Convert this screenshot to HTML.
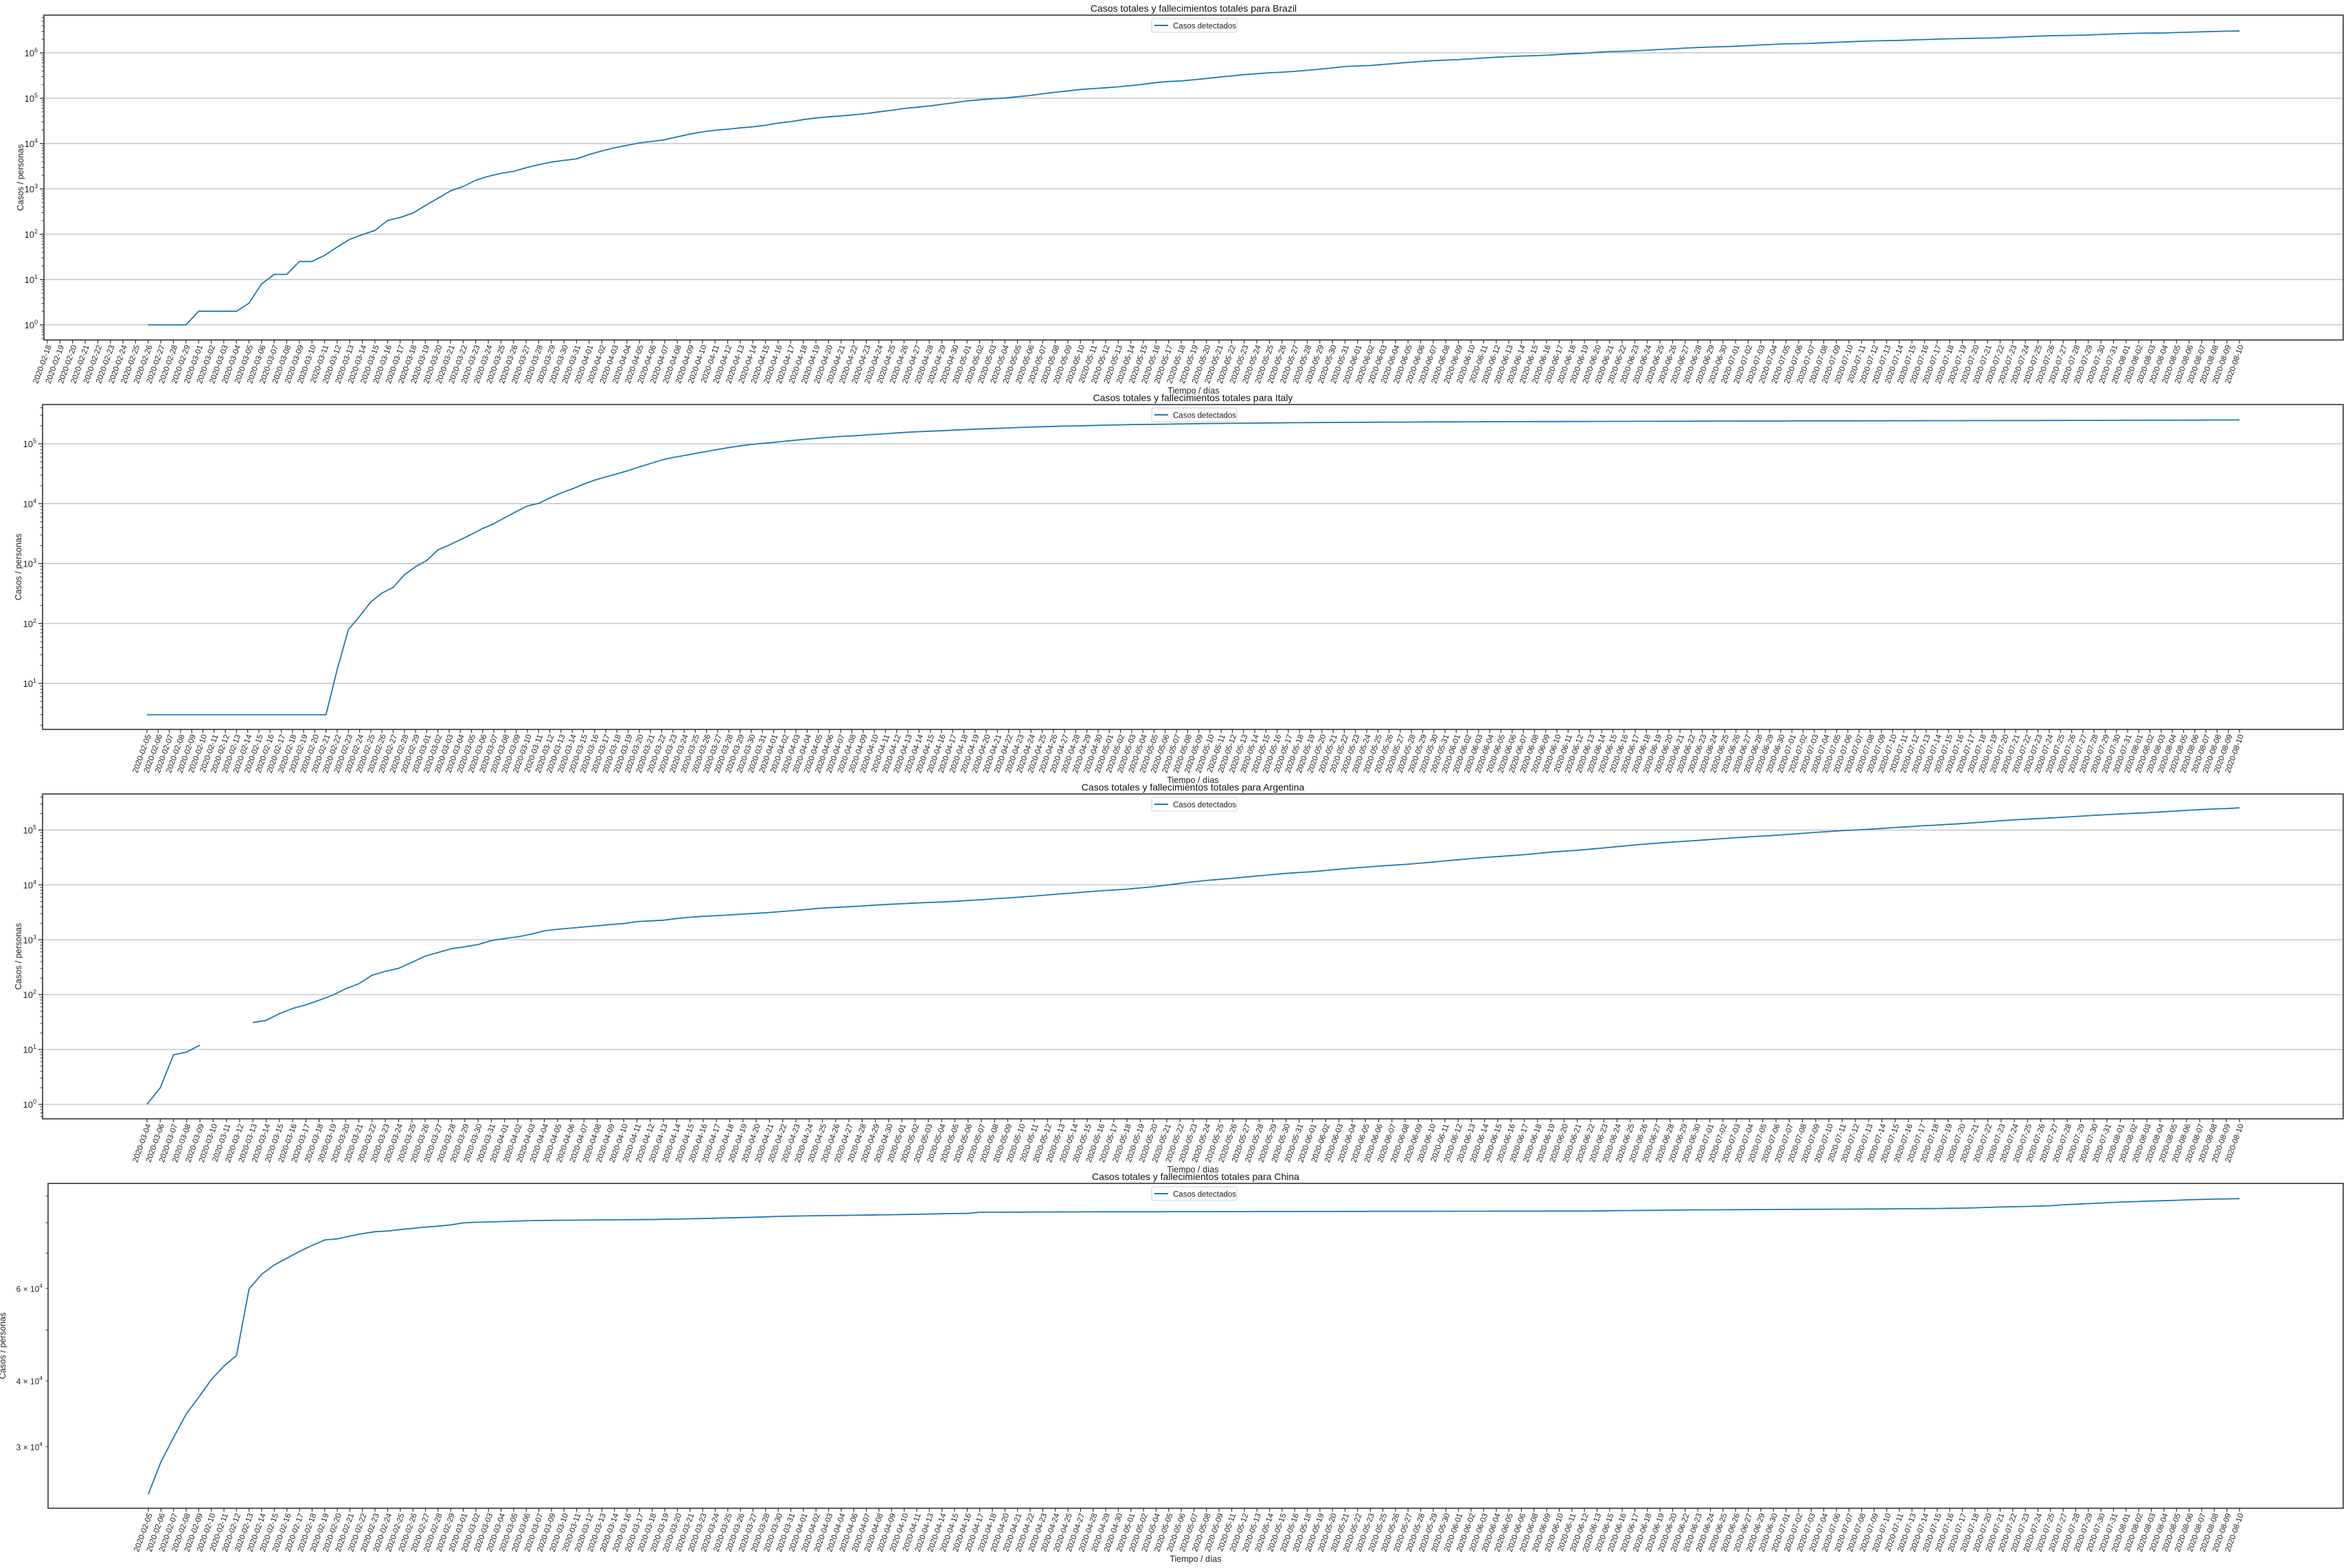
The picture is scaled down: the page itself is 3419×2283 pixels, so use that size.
<!DOCTYPE html>
<html><head><meta charset="utf-8"><style>
html,body{margin:0;padding:0;background:#fff}
svg{display:block;font-family:"Liberation Sans","DejaVu Sans",sans-serif}
</style></head><body>
<svg id="fig" width="3419" height="2283" viewBox="0 0 3419 2283" xmlns="http://www.w3.org/2000/svg"></svg>
<script>
// ---------- data ----------
const brazilStart = "2020-02-18";
const brazilValues = [null,null,null,null,null,null,null,null,
1,1,1,1,
2,2,2,2,3,8,13,13,25,25,34,52,77,98,121,200,234,291,428,621,904,1128,1546,1891,2201,2433,2915,3417,3904,4256,4579,
5717,6836,8044,9056,10360,11130,12161,14034,16170,18092,19638,20727,22169,23430,25262,28320,30425,33682,36599,38654,40581,43079,45757,50036,54043,59324,63100,67446,73235,79685,
87187,92202,97100,101147,107780,114715,125218,135106,145328,155939,162699,169594,178214,190137,203165,220291,233142,241080,255368,271628,291579,310087,330890,347398,363211,374898,391222,411821,438238,465166,498440,
514849,526447,555383,584016,614941,645771,672846,691758,707412,739503,772416,802828,828810,850514,867624,888271,923189,955377,978142,1032913,1067579,1083341,1106470,1145906,1188631,1228114,1274974,1313667,1344143,1368195,
1402041,1448753,1496858,1539081,1577004,1603055,1623284,1668589,1713160,1755779,1800827,1839850,1864681,1884967,1926824,1966748,2012151,2046328,2074860,2098389,2118646,2159654,2227514,2287475,2343366,2394513,2419091,2442375,2483191,2552265,2610102,
2662485,2707877,2733677,2750318,2801921,2859073,2912212,2962442,3012412,3035422];

const italyStart = "2020-02-05";
const italyValues = [3,3,3,3,3,3,3,3,3,3,3,3,3,3,3,3,3,17,79,132,229,322,400,650,888,
1128,1694,2036,2502,3089,3858,4636,5883,7375,9172,10149,12462,15113,17660,21157,24747,27980,31506,35713,41035,47021,53578,59138,63927,69176,74386,80589,86498,92472,97689,101739,
105792,110574,115242,119827,124632,128948,132547,135586,139422,143626,147577,152271,156363,159516,162488,165155,168941,172434,175925,178972,181228,183957,187327,189973,192994,195351,197675,199414,201505,203591,
205463,207428,209328,210717,211938,213013,214457,215858,217185,218268,219070,219814,221216,222104,223096,223885,224760,225435,225886,226699,227364,228006,228658,229327,229858,230158,230555,231139,231732,232248,232664,
233019,233197,233515,233836,234013,234531,234801,234998,235278,235561,235763,236142,236305,236651,236989,237290,237500,237828,238011,238275,238499,238720,238833,239410,239706,239961,240136,240310,240436,240578,
240760,240961,241184,241419,241611,241819,241956,242149,242363,242639,242827,243061,243230,243344,243506,243736,243967,244216,244434,244624,244752,244970,245032,245338,245590,245864,246118,246286,246488,246776,247158,
247537,247832,248070,248229,248419,248803,249204,249756,250103,250566];

const argentinaStart = "2020-03-04";
const argentinaSkip = ["2020-03-05"];
const argentinaValues = [1,2,8,9,12,null,null,null,31,34,45,56,65,79,97,128,158,225,266,301,387,502,589,690,745,820,966,
1054,1133,1265,1451,1554,1628,1715,1795,1894,1975,2142,2208,2277,2443,2571,2669,2758,2839,2941,3031,3144,3288,3435,3607,3780,3892,4003,4127,4285,4428,
4532,4681,4783,4887,5020,5208,5371,5611,5776,6034,6278,6563,6879,7134,7479,7805,8068,8371,8809,9283,9931,10649,11353,12076,12628,13228,13933,14702,15419,16214,16851,
17415,18319,19268,20197,21037,22020,22794,23620,24761,25987,27373,28764,30295,31577,32785,34159,35552,37510,39570,41204,42785,44931,47216,49851,52457,55343,57744,59933,62268,64530,
67197,69941,72786,75376,77815,80447,83426,87030,90693,94060,97509,100166,103265,106910,111160,114783,119301,122524,126755,130774,136118,141900,148027,153520,158334,162526,167416,173355,178996,185373,191302,
196543,201919,206743,213535,220682,228195,235677,241811,246499,253868];

const chinaStart = "2020-02-05";
const chinaSkip = ["2020-03-08","2020-03-15","2020-03-22","2020-03-29","2020-04-05","2020-04-12","2020-04-19","2020-04-26","2020-05-03","2020-05-10","2020-05-17","2020-05-24","2020-05-31","2020-06-07","2020-06-14","2020-06-21","2020-06-28","2020-07-05","2020-07-12","2020-07-19","2020-07-26"];
const chinaValues = [24363,28060,31211,34598,37251,40235,42708,44730,59882,63851,66492,68500,70548,72436,74185,74576,75465,76288,76936,77150,77658,78064,78497,78824,79251,
79968,80174,80304,80422,80565,80711,80813,80859,80904,80924,80955,80992,81021,81077,81116,81151,81235,81300,81416,81498,81601,81747,81846,81960,82078,82279,82361,
82432,82511,82543,82602,82665,82718,82809,82883,82941,83014,83134,83213,83303,83352,83760,83787,83805,83817,83853,83868,83884,83899,83912,83940,83944,83956,
83959,83961,83966,83968,83970,83975,83976,83990,84010,84011,84018,84024,84029,84038,84054,84063,84065,84081,84084,84095,84102,84103,84106,84106,84123,84128,
84146,84154,84160,84171,84177,84186,84191,84195,84198,84210,84216,84228,84335,84378,84422,84458,84494,84553,84624,84653,84673,84701,84725,84743,84757,84785,
84816,84830,84857,84871,84917,84928,84950,84973,85007,85048,85071,85117,85155,85226,85314,85397,85570,85707,85816,85914,86045,86202,86570,86783,86990,87213,87489,
87655,87804,87977,88115,88286,88479,88596,88728,88803,88910];

const endDate = "2020-08-10";
const countryNames = ["Brazil","Italy","Argentina","China"];
const yDomainsLog = [[-0.333,6.833],[0.232,5.656],[-0.264,5.658],[4.360,4.978]];
const chinaTickLabels = [3,4,6];

// ---------- helpers ----------
const NS="http://www.w3.org/2000/svg";
const svg=document.getElementById('fig');
function mk(tag,attrs,parent){const e=document.createElementNS(NS,tag);for(const k in attrs)e.setAttribute(k,attrs[k]);(parent||svg).appendChild(e);return e;}
function dateList(start,end,skip){const out=[];let d=new Date(start+"T00:00:00Z");const e=new Date(end+"T00:00:00Z");while(d<=e){const s=d.toISOString().slice(0,10);if(!(skip||[]).includes(s))out.push(s);d=new Date(d.getTime()+86400000);}return out;}

const panels=[
 {dates:dateList(brazilStart,endDate),vals:brazilValues,left:64,top:22,fx:69,lx:3261,ylx:30},
 {dates:dateList(italyStart,endDate),vals:italyValues,left:62,top:589,fx:214,lx:3261,ylx:27},
 {dates:dateList(argentinaStart,endDate,argentinaSkip),vals:argentinaValues,left:62,top:1156,fx:214,lx:3261,ylx:27},
 {dates:dateList(chinaStart,endDate,chinaSkip),vals:chinaValues,left:70,top:1723,fx:216,lx:3261,ylx:4}
];
const RIGHT=3412, H=473;

panels.forEach((p,pi)=>{
  const g=mk('g',{});
  
  
  const bottom=p.top+H;
  const [lmin,lmax]=yDomainsLog[pi];
  const yS=v=>bottom-(Math.log10(v)-lmin)/(lmax-lmin)*H;
  const n=p.dates.length;
  const xS=i=>p.fx+(p.lx-p.fx)*i/(n-1);

  const kmin=Math.floor(lmin), kmax=Math.ceil(lmax);
  for(let k=kmin;k<=kmax;k++){
    for(let m=1;m<=9;m++){
      const v=m*Math.pow(10,k); const lv=Math.log10(v);
      if(lv<lmin||lv>lmax) continue;
      const y=yS(v);
      if(m===1){
        const gl=mk('line',{x1:p.left,x2:RIGHT,y1:y,y2:y,stroke:'#b8b8b8','stroke-width':1.2},g);
        
        
        mk('line',{x1:p.left-6,x2:p.left,y1:y,y2:y,stroke:'#333','stroke-width':1.3},g);
        const t=mk('text',{x:p.left-9,y:y+5,'text-anchor':'end','font-size':13,fill:'#222'},g);
        
        
        t.appendChild(document.createTextNode('10'));
        const s=mk('tspan',{dy:-6,'font-size':9},t); s.textContent=String(k);
      } else {
        mk('line',{x1:p.left-3.5,x2:p.left,y1:y,y2:y,stroke:'#333','stroke-width':1},g);
        if(pi===3 && chinaTickLabels.includes(m)){
          const t=mk('text',{x:p.left-8,y:y+5,'text-anchor':'end','font-size':12,fill:'#222'},g);
          
          
          t.appendChild(document.createTextNode(m+' \u00d7 10'));
          const s=mk('tspan',{dy:-6,'font-size':8.5},t); s.textContent=String(k);
        }
      }
    }
  }

  p.dates.forEach((d,i)=>{
    const x=xS(i);
    mk('line',{x1:x,x2:x,y1:bottom,y2:bottom+5,stroke:'#333','stroke-width':1.2},g);
    const t=mk('text',{x:0,y:0,'text-anchor':'end','font-size':11.5,fill:'#222',transform:`translate(${x+6},${bottom+9}) rotate(-70)`},g);
    
    
    t.textContent=d;
  });

  let dstr='', pen=false;
  p.vals.forEach((v,i)=>{
    if(v==null||v<=0){pen=false;return;}
    dstr+=(pen?'L':'M')+xS(i).toFixed(1)+','+yS(v).toFixed(1);
    pen=true;
  });
  const path=mk('path',{d:dstr,fill:'none',stroke:'#1f77b4','stroke-width':1.8,'stroke-linejoin':'round'},g);
  
  

  const fr=mk('rect',{x:p.left,y:p.top,width:RIGHT-p.left,height:H,fill:'none',stroke:'#333','stroke-width':1.6},g);
  
  

  const cx=(p.left+RIGHT)/2;
  const ti=mk('text',{x:cx,y:p.top-5,'text-anchor':'middle','font-size':14,fill:'#111'},g);
  
  
  ti.textContent='Casos totales y fallecimientos totales para '+countryNames[pi];

  const lg=mk('g',{},g);
  
  
  mk('rect',{x:1677,y:p.top+5,width:124,height:20,rx:2.5,fill:'#fff',stroke:'#d0d0d0','stroke-width':1},lg);
  mk('line',{x1:1681,x2:1701,y1:p.top+15,y2:p.top+15,stroke:'#1f77b4','stroke-width':2},lg);
  const lt=mk('text',{x:1708,y:p.top+19.5,'font-size':11.5,fill:'#222'},lg);
  
  
  lt.textContent='Casos detectados';

  const yl=mk('text',{x:0,y:0,'text-anchor':'middle','font-size':12.5,fill:'#222',transform:`translate(${p.ylx+4},${p.top+H/2}) rotate(-90)`},g);
  
  
  yl.textContent='Casos / personas';
  const xl=mk('text',{x:cx,y:bottom+78,'text-anchor':'middle','font-size':12.5,fill:'#222'},g);
  
  
  xl.textContent='Tiempo / días';
});
</script>
</body></html>
